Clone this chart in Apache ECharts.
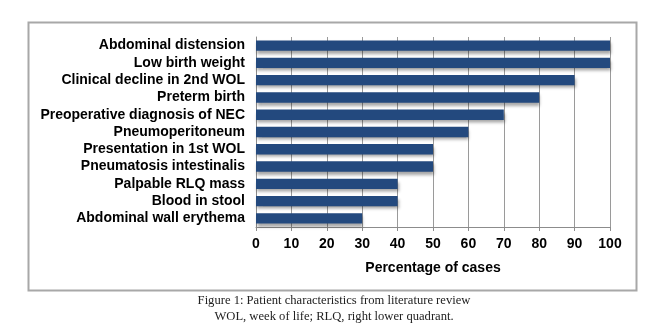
<!DOCTYPE html>
<html>
<head>
<meta charset="utf-8">
<script src="https://cdn.jsdelivr.net/npm/echarts@6/dist/echarts.min.js"></script>
<style>
  html, body { margin: 0; padding: 0; background: #fff; }
  #chart { width: 669px; height: 335px; }
</style>
</head>
<body>
<div id="chart"></div>
<script>
// characteristics, top to bottom
const categories = [
    'Abdominal distension',
    'Low birth weight',
    'Clinical decline in 2nd WOL',
    'Preterm birth',
    'Preoperative diagnosis of NEC',
    'Pneumoperitoneum',
    'Presentation in 1st WOL',
    'Pneumatosis intestinalis',
    'Palpable RLQ mass',
    'Blood in stool',
    'Abdominal wall erythema',
]
const percentValues = [100, 100, 90, 80, 70, 60, 50, 50, 40, 40, 30]
const axisTitle = 'Percentage of cases'
const captionLines = [
    'Figure 1: Patient characteristics from literature review',
    'WOL, week of life; RLQ, right lower quadrant.',
]

const chart = echarts.init(document.getElementById('chart'))
const option = {
    animation: false,
    textStyle: { fontFamily: 'Liberation Sans, Arial, sans-serif' },
    grid: { left: 256, right: 59, top: 37, bottom: 108, containLabel: false },
    graphic: [
        {
            type: 'rect',
            shape: { x: 28.5, y: 22.5, width: 608, height: 268 },
            style: { fill: 'none', stroke: '#a8a8a8', lineWidth: 2 },
            z: -1,
        },
        {
            type: 'text',
            x: 334,
            y: 293,
            style: {
                text: captionLines.join('\n'),
                font: '12.6px "Liberation Serif", serif',
                fill: '#222',
                align: 'center',
                verticalAlign: 'top',
                lineHeight: 16,
            },
        },
    ],
    xAxis: {
        type: 'value',
        min: 0,
        max: 100,
        interval: 10,
        name: axisTitle,
        nameLocation: 'middle',
        nameGap: 34,
        nameTextStyle: { color: '#000', fontSize: 14, fontWeight: 'bold' },
        axisLine: { show: true, lineStyle: { color: '#8c8c8c', width: 1 } },
        axisTick: { show: true, length: 4, lineStyle: { color: '#8c8c8c' } },
        axisLabel: { color: '#000', fontSize: 14, fontWeight: 'bold', margin: 10 },
        splitLine: { show: true, lineStyle: { color: '#9a9a9a', width: 1 } },
    },
    yAxis: {
        type: 'category',
        inverse: true,
        data: categories,
        axisLine: { show: true, lineStyle: { color: '#8c8c8c', width: 1 } },
        axisTick: { show: false },
        axisLabel: { color: '#000', fontSize: 14, fontWeight: 'bold', margin: 11, interval: 0, hideOverlap: false },
    },
    series: [
        {
            type: 'bar',
            data: percentValues,
            barCategoryGap: '40%',
            itemStyle: {
                color: '#23497e',
                shadowColor: 'rgba(0,0,0,0.35)',
                shadowBlur: 3,
                shadowOffsetY: 3,
                shadowOffsetX: 1,
            },
        },
    ],
}
chart.setOption(option)
</script>
</body>
</html>
